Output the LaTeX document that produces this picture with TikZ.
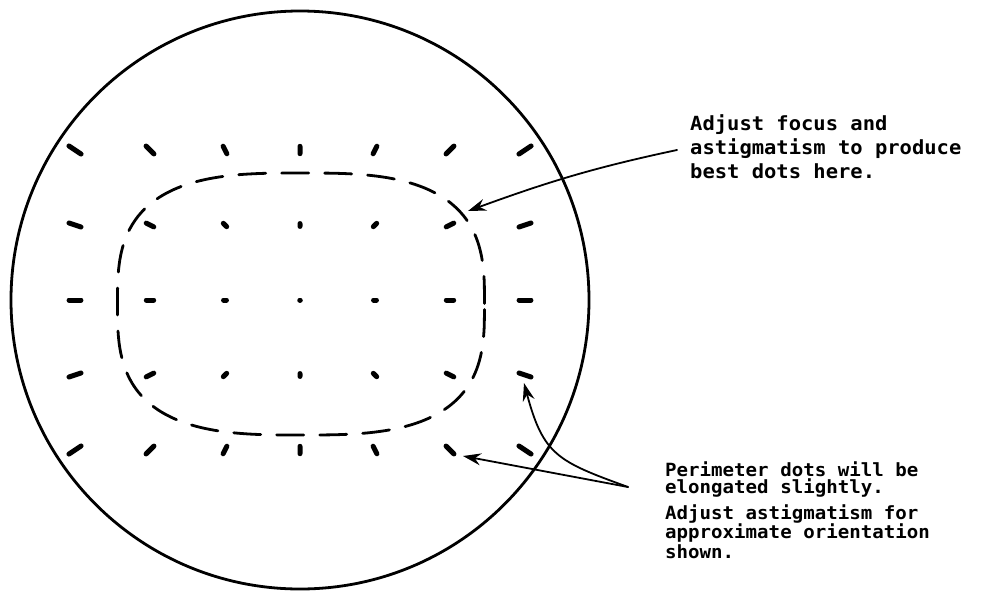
\documentclass[tikz,border=0pt]{standalone}
\usepackage{fontspec}
\usetikzlibrary{arrows.meta}
\newfontfamily\letterfont[FakeStretch=1.05]{DejaVu Sans Mono}

\tikzset{
  spot/.style={line width=5pt, line cap=round},
  zone/.style={line width=2.8pt, dash pattern=on 27pt off 16pt},
  pointer/.style={line width=1.8pt, -{Stealth[length=18pt,width=12pt,inset=6pt]}},
  note/.style={anchor=base west, inner sep=0pt, align=left},
}

\begin{document}
\begin{tikzpicture}[x=1pt, y=-1pt, line join=round, line cap=round]
  \useasboundingbox (0,0) rectangle (985,592);

  % screen face
  \draw[line width=2.8pt] (300,300) circle[radius=289];

  % dot raster, elongated radially towards the edge
  \foreach \i in {-3,...,3}{
    \foreach \j in {-2,...,2}{
      \pgfmathsetmacro{\r}{75*veclen(\i,\j)}
      \pgfmathsetmacro{\len}{max(0.5, 2+0.06*(\r-60))}
      \pgfmathsetmacro{\ang}{atan2(\j, \i+0.001)}
      \draw[spot] (300+75*\i, 300+75*\j) ++(\ang:-\len/2) -- ++(\ang:\len);
    }
  }

  % zone of best dots
  \draw[zone] plot[domain=0.5:360.5, samples=101, variable=\t, smooth]
    ({301+183.5*cos(\t)/abs(cos(\t))*abs(cos(\t))^(2/3)},
     {304+131*sin(\t)/abs(sin(\t))*abs(sin(\t))^(2/3)}) -- cycle;

  % notes (base = last line)
  \node[note, font=\letterfont\bfseries\fontsize{19.5}{24}\selectfont] (focusnote) at (690,178)
    {Adjust focus and\\astigmatism to produce\\best dots here.};
  \node[note, font=\letterfont\bfseries\fontsize{18.2}{16.5}\selectfont] (perimnote) at (665,493)
    {Perimeter dots will be\\elongated slightly.};
  \node[note, font=\letterfont\bfseries\fontsize{18.2}{19.5}\selectfont] (astignote) at (665,558)
    {Adjust astigmatism for\\approximate orientation\\shown.};

  % pointers
  \coordinate (focusend) at (677,150);
  \coordinate (bestdot) at (468,211);
  \coordinate (perimend) at (628,487);
  \coordinate (sidedot) at (524,383);
  \coordinate (cornerdot) at (463,456);
  \draw[pointer] (focusend) to[out=192, in=20] (bestdot);
  \draw[pointer] (perimend) to[out=160, in=-75, looseness=1.3] (sidedot);
  \draw[pointer] (perimend) -- (cornerdot);
\end{tikzpicture}
\end{document}
